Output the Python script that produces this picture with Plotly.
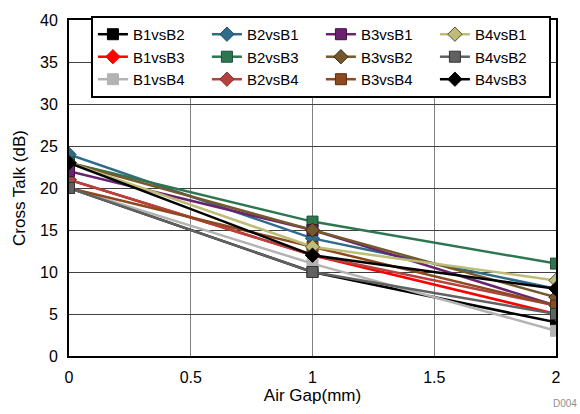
import plotly.graph_objects as go

air_gap = [0, 1, 2]
series_names = ["B1vsB2", "B1vsB3", "B1vsB4", "B2vsB1", "B2vsB3", "B2vsB4",
                "B3vsB1", "B3vsB2", "B3vsB4", "B4vsB1", "B4vsB2", "B4vsB3"]
B1vsB2 = [20, 10, 4]
B1vsB3 = [21, 12, 5]
B1vsB4 = [20, 11, 3]
B2vsB1 = [24, 14, 8]
B2vsB3 = [23, 16, 11]
B2vsB4 = [21, 12, 6]
B3vsB1 = [22, 15, 6]
B3vsB2 = [23, 15, 7]
B3vsB4 = [20, 13, 6]
B4vsB1 = [23, 13, 9]
B4vsB2 = [20, 10, 5]
B4vsB3 = [23, 12, 8]
values = [B1vsB2, B1vsB3, B1vsB4, B2vsB1, B2vsB3, B2vsB4,
          B3vsB1, B3vsB2, B3vsB4, B4vsB1, B4vsB2, B4vsB3]

colors = ["#000000", "#FF0000", "#B3B3B3", "#2F6C8A", "#2D7650", "#B5423F",
          "#6B2370", "#75592C", "#8D4A1E", "#BDBD78", "#616161", "#000000"]
outlines = ["#000000", "#FF0000", "#B3B3B3", "#1E4E66", "#1B4E33", "#7A2A28",
            "#3E1042", "#3A2A10", "#5A2E10", "#4F4F30", "#333333", "#000000"]
symbols = ["square", "diamond", "square", "diamond", "square", "diamond",
           "square", "diamond", "square", "diamond", "square", "diamond"]

# legend displayed column-major in a 4x3 grid -> row-major ranks
legend_rank = {}
for i, name in enumerate(series_names):
    col, row = divmod(i, 3)
    legend_rank[name] = row * 4 + col + 1

fig = go.Figure()
for name, v, c, oc, s in zip(series_names, values, colors, outlines, symbols):
    fig.add_trace(go.Scatter(
        x=air_gap, y=v, name=name, mode="lines+markers",
        line=dict(color=c, width=2.5),
        marker=dict(symbol=s, size=11, color=c,
                    line=dict(color=oc, width=1)),
        legendrank=legend_rank[name],
    ))

font = "Liberation Sans, Arial, sans-serif"
fig.update_layout(
    width=580, height=414,
    margin=dict(l=69, r=24, t=15, b=57),
    paper_bgcolor="white", plot_bgcolor="white",
    font=dict(family=font, size=16, color="black"),
    showlegend=True,
    legend=dict(
        orientation="h", x=0.045, xanchor="left", y=1.012, yanchor="top",
        entrywidth=69, entrywidthmode="pixels",
        bgcolor="white", bordercolor="black", borderwidth=2,
        font=dict(family=font, size=15, color="black"),
        itemwidth=30, tracegroupgap=0,
    ),
    xaxis=dict(
        range=[0, 2], tickvals=[0, 0.5, 1, 1.5, 2],
        ticktext=["0", "0.5", "1", "1.5", "2"],
        tickfont=dict(size=16), ticklabelstandoff=6,
        showgrid=True, gridcolor="#808080", gridwidth=1,
        showline=True, linecolor="black", linewidth=2, mirror=True,
        zeroline=False, ticks="",
        title=dict(text="Air Gap(mm)", standoff=4, font=dict(size=17)),
    ),
    yaxis=dict(
        range=[0, 40], dtick=5, tick0=0,
        tickfont=dict(size=16), ticklabelstandoff=6,
        showgrid=True, gridcolor="#404040", gridwidth=1,
        showline=True, linecolor="black", linewidth=2, mirror=True,
        zeroline=False, ticks="",
        title=dict(text="Cross Talk (dB)", standoff=10, font=dict(size=17)),
    ),
)
fig.add_annotation(text="D004", xref="paper", yref="paper", x=1.047, y=-0.14,
                   xanchor="right", yanchor="middle", showarrow=False,
                   font=dict(family=font, size=10, color="#909090"))

fig.write_html("out.html")
